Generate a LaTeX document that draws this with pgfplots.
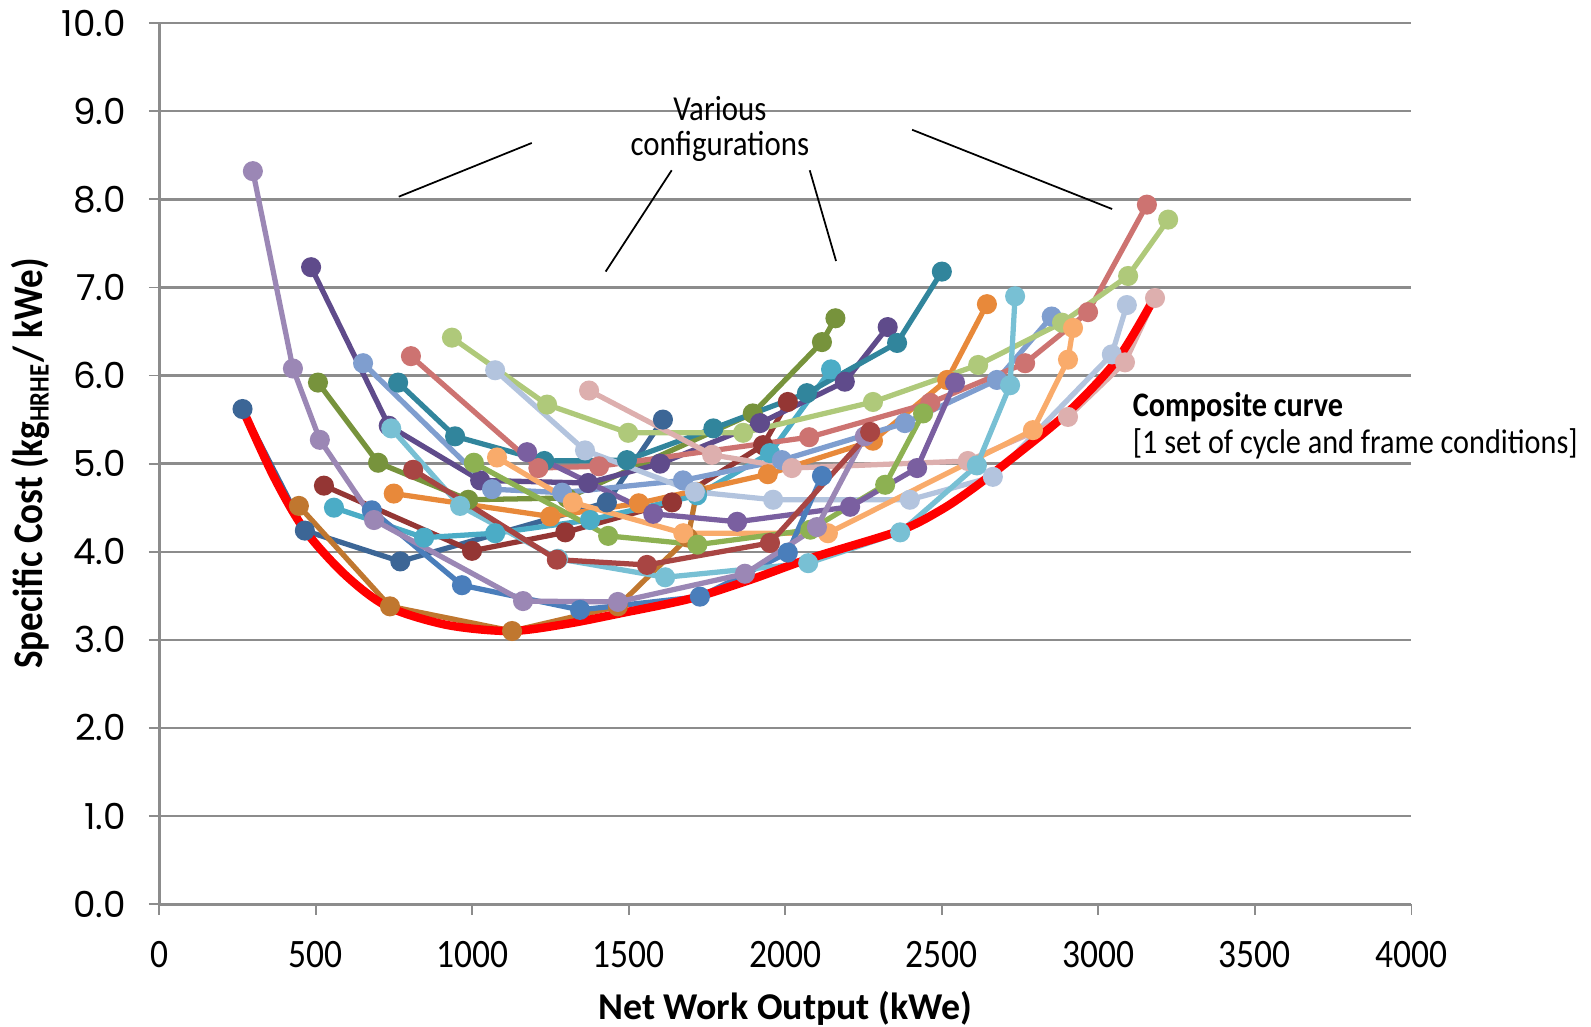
\documentclass[border=0pt]{standalone}
\usepackage{fontspec}
\setmainfont{Carlito}
\newfontfamily\condfont[FakeStretch=0.88]{Carlito}
\newfontfamily\poppins{Poppins}
\usepackage{pgfplots}
\pgfplotsset{compat=1.18}

\definecolor{cA}{HTML}{3C6696}
\definecolor{cB}{HTML}{C0772F}
\definecolor{cC}{HTML}{943634}
\definecolor{cD}{HTML}{4BACC6}
\definecolor{cE}{HTML}{E8893A}
\definecolor{cF}{HTML}{77933C}
\definecolor{cG}{HTML}{5F4B8B}
\definecolor{cH}{HTML}{7F9ECF}
\definecolor{cI}{HTML}{31859C}
\definecolor{cJ}{HTML}{CD7371}
\definecolor{cK}{HTML}{AFC97A}
\definecolor{cL}{HTML}{B3C4DE}
\definecolor{cM}{HTML}{DDAFAE}
\definecolor{cN}{HTML}{F9AB6B}
\definecolor{cO}{HTML}{8DB152}
\definecolor{cP}{HTML}{7A5FA0}
\definecolor{cQ}{HTML}{4A7EBB}
\definecolor{cR}{HTML}{78C0D4}
\definecolor{cS}{HTML}{9B87B5}
\definecolor{cU}{HTML}{A84543}
\definecolor{gridgray}{HTML}{8C8C8C}

\pgfplotsset{cfg/.style={color=#1, line width=1.5pt, mark=*, mark size=2.1pt, mark options={solid}}}

\begin{document}
\begin{tikzpicture}
\begin{axis}[
    scale only axis,
    width=356.9pt, height=251.1pt,
    xmin=0, xmax=4000, ymin=0, ymax=10,
    clip=false,
    axis x line=bottom, axis y line=left,
    axis line style={draw=gridgray, line width=0.8pt, -},
    xtick={0,500,...,4000}, ytick={0,1,...,10},
    ymajorgrids,
    grid style={draw=gridgray, line width=0.7pt},
    tick align=outside, major tick length=3pt,
    tick style={draw=gridgray, line width=0.5pt},
    /pgf/number format/assume math mode=true,
    yticklabel style={font=\poppins\fontsize{10.2}{12}\selectfont, xshift=-3pt,
        /pgf/number format/fixed, /pgf/number format/fixed zerofill,
        /pgf/number format/precision=1},
    xticklabel style={font=\condfont\fontsize{11.5}{13}\selectfont, yshift=-4pt,
        /pgf/number format/set thousands separator={}},
    xlabel={\bfseries Net Work Output (kWe)},
    ylabel={\bfseries Specific Cost (kg\textsubscript{HRHE}/ kWe)},
    xlabel style={font=\fontsize{10.8}{12}\selectfont, at={(axis description cs:0.5,-0.118)}, anchor=center},
    ylabel style={font=\condfont\fontsize{12}{13}\selectfont, at={(axis description cs:-0.103,0.5)}, anchor=center},
]
\coordinate (bl) at (rel axis cs:0,0);
\coordinate (tr) at (rel axis cs:1,1);

\addplot[cfg=cA] coordinates {(266,5.62) (465,4.24) (770,3.89) (1430,4.56) (1609,5.50)};
\addplot[cfg=cB] coordinates {(446,4.52) (737,3.38) (1127,3.10) (1465,3.38) (1689,4.16) (1717,4.68)};
\addplot[cfg=cC] coordinates {(526,4.75) (999,4.01) (1297,4.22) (1638,4.56) (1929,5.21) (2008,5.70)};
\addplot[cfg=cD] coordinates {(558,4.50) (846,4.16) (1073,4.21) (1376,4.36) (1718,4.64) (1951,5.12) (2146,6.07)};
\addplot[cfg=cE] coordinates {(749,4.66) (1249,4.40) (1532,4.55) (1944,4.88) (2280,5.26) (2517,5.95) (2644,6.81)};
\addplot[cfg=cF] coordinates {(507,5.92) (699,5.01) (987,4.59) (1303,4.61) (1896,5.57) (2117,6.38) (2160,6.65)};
\addplot[cfg=cG] coordinates {(485,7.23) (733,5.43) (1025,4.81) (1370,4.78) (1600,5.00) (1919,5.46) (2190,5.93) (2327,6.55)};
\addplot[cfg=cH] coordinates {(651,6.14) (1063,4.71) (1287,4.67) (1673,4.81) (1989,5.04) (2382,5.46) (2676,5.95) (2851,6.67)};
\addplot[cfg=cI] coordinates {(763,5.92) (945,5.31) (1230,5.03) (1494,5.04) (1770,5.40) (2069,5.80) (2357,6.37) (2500,7.18)};
\addplot[cfg=cJ] coordinates {(804,6.22) (1211,4.95) (1405,4.97) (2076,5.30) (2463,5.69) (2766,6.14) (2967,6.72) (3155,7.94)};
\addplot[cfg=cK] coordinates {(935,6.43) (1239,5.67) (1498,5.35) (1865,5.35) (2280,5.70) (2616,6.12) (2884,6.60) (3095,7.13) (3223,7.77)};
\addplot[cfg=cL] coordinates {(1073,6.06) (1360,5.15) (1711,4.68) (1961,4.59) (2398,4.59) (2663,4.85) (3043,6.24) (3091,6.80)};
\addplot[cfg=cM] coordinates {(1373,5.83) (1766,5.10) (2021,4.95) (2583,5.03) (2903,5.53) (3085,6.15) (3181,6.88)};
\addplot[cfg=cN] coordinates {(1079,5.07) (1321,4.56) (1674,4.21) (2136,4.21) (2791,5.38) (2903,6.18) (2919,6.54)};
\addplot[cfg=cO] coordinates {(1005,5.01) (1434,4.18) (1719,4.08) (2080,4.25) (2319,4.76) (2440,5.57)};
\addplot[cfg=cP] coordinates {(1175,5.13) (1578,4.43) (1846,4.34) (2207,4.51) (2421,4.95) (2542,5.92)};
\addplot[cfg=cQ] coordinates {(679,4.47) (967,3.62) (1344,3.34) (1727,3.49) (2008,3.99) (2117,4.86)};
\addplot[cfg=cR] coordinates {(741,5.40) (961,4.52) (1274,3.92) (1616,3.71) (2073,3.87) (2367,4.22) (2612,4.98) (2718,5.89) (2734,6.90)};
\addplot[cfg=cS] coordinates {(299,8.32) (427,6.08) (513,5.27) (686,4.36) (1162,3.44) (1465,3.43) (1871,3.75) (2101,4.28) (2254,5.31)};
\addplot[cfg=cU] coordinates {(811,4.93) (1270,3.91) (1558,3.85) (1951,4.10) (2271,5.36)};

% composite curve
\addplot[red, line width=2.4pt, smooth, tension=0.5] coordinates {
    (266,5.62) (366,4.85) (464,4.25) (593,3.74) (728,3.38) (917,3.17) (1120,3.10)
    (1300,3.18) (1472,3.30) (1700,3.47) (1887,3.68) (2084,3.93) (2366,4.24)
    (2500,4.48) (2600,4.72) (2717,5.04) (2899,5.57) (3060,6.18) (3180,6.89)};

% annotations
\node[font=\condfont\fontsize{10}{11}\selectfont] at (1791,9.03) {Various};
\node[font=\condfont\fontsize{10}{11}\selectfont] at (1791,8.60) {configurations};
\draw[black, line width=0.5pt] (765,8.03) -- (1190,8.64);
\draw[black, line width=0.5pt] (1426,7.18) -- (1637,8.33);
\draw[black, line width=0.5pt] (2078,8.33) -- (2162,7.30);
\draw[black, line width=0.5pt] (2405,8.79) -- (3044,7.89);
\node[anchor=west, inner sep=0pt, font=\condfont\bfseries\fontsize{9.8}{11}\selectfont] at (3108,5.64) {Composite curve};
\node[anchor=west, inner sep=0pt, font=\condfont\fontsize{9.8}{11}\selectfont] at (3108,5.22) {[1 set of cycle and frame conditions]};
\end{axis}
\pgfresetboundingbox
\path ([shift={(-45.4pt,-34.8pt)}]bl) rectangle ([shift={(51.2pt,6.6pt)}]tr);
\end{tikzpicture}
\end{document}
